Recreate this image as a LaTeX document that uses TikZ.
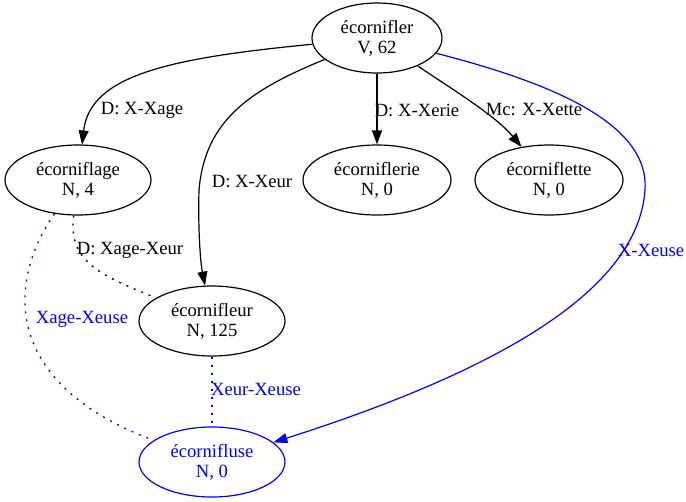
\documentclass[tikz,border=0pt]{standalone}
\usepackage{fontspec}
\setmainfont{Liberation Serif}
\usetikzlibrary{shapes.geometric,arrows.meta}
\begin{document}
\begin{tikzpicture}[x=0.75pt,y=-0.75pt,
  gnode/.style={ellipse, draw, line width=0.9pt, inner sep=0pt, minimum height=52.5pt, minimum width=109.5pt, align=center, font=\fontsize{14}{15}\selectfont},
  bnode/.style={gnode, draw=blue, text=blue},
  edge/.style={line width=0.9pt, -{Triangle[length=10.5pt,width=7.5pt]}},
  bedge/.style={edge, color=blue},
  dotline/.style={line width=1pt, dash pattern=on 1.5pt off 4.5pt},
  bdotline/.style={dotline, color=blue},
  lbl/.style={font=\fontsize{14}{15}\selectfont, inner sep=0pt},
]
\useasboundingbox (0,0) rectangle (686,501);

\node[gnode, minimum width=97.5pt] (ecornifler) at (377,38) {écornifler\\V, 62};
\node[gnode] (ecorniflage) at (78,180) {écorniflage\\N, 4};
\node[gnode, minimum width=111pt] (ecorniflerie) at (377,180) {écorniflerie\\N, 0};
\node[gnode, minimum width=111pt] (ecorniflette) at (549,180) {écorniflette\\N, 0};
\node[gnode] (ecornifleur) at (212,321) {écornifleur\\N, 125};
\node[bnode] (ecornifluse) at (212,462) {écornifluse\\N, 0};

\coordinate (m1) at (199,190);
\coordinate (m2) at (645,190);

% solid edges
\draw[edge] (ecornifler) .. controls (170,58) and (90,75) .. (ecorniflage);
\draw[edge] (ecornifler) .. controls (250,90) and (205,120) .. (m1) .. controls (198,225) and (200,260) .. (ecornifleur);
\draw[edge] (ecornifler) -- (ecorniflerie);
\draw[edge] (ecornifler) .. controls (450,88) and (495,115) .. (ecorniflette);
\draw[bedge] (ecornifler) .. controls (540,80) and (650,120) .. (m2) .. controls (638,290) and (500,370) .. (ecornifluse);

% dotted edges
\draw[dotline] (ecorniflage) .. controls (68,262) and (100,275) .. (ecornifleur);
\draw[bdotline] (ecorniflage) .. controls (5,285) and (5,385) .. (ecornifluse);
\draw[bdotline] (ecornifleur) -- (ecornifluse);

% labels
\node[lbl] (l1) at (142,110) {D: X-Xage};
\node[lbl] (l2) at (252,182) {D: X-Xeur};
\node[lbl] (l3) at (417,110) {D: X-Xerie};
\node[lbl] (l4) at (534,110) {Mc: X-Xette};
\node[lbl, text=blue] (l5) at (651,250) {X-Xeuse};
\node[lbl] (l6) at (130,250) {D: Xage-Xeur};
\node[lbl, text=blue] (l7) at (82,319) {Xage-Xeuse};
\node[lbl, text=blue] (l8) at (256,389) {Xeur-Xeuse};
\end{tikzpicture}
\end{document}
